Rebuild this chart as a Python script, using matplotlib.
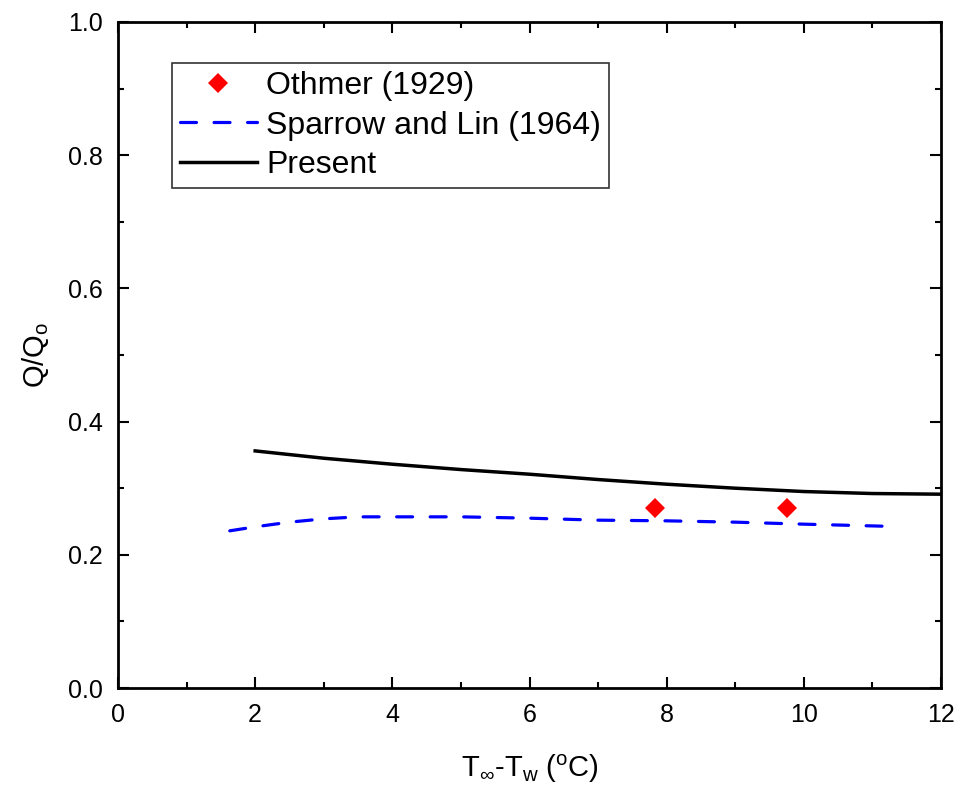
import numpy as np
import matplotlib
matplotlib.use("Agg")
import matplotlib.pyplot as plt
from matplotlib.ticker import MultipleLocator, FormatStrFormatter

plt.rcParams['font.family'] = ['Liberation Sans', 'DejaVu Sans']
plt.rcParams['mathtext.fontset'] = 'custom'
plt.rcParams['mathtext.rm'] = 'Liberation Sans'
plt.rcParams['mathtext.it'] = 'Liberation Sans'

# Othmer (1929) experimental points
othmer_x = [7.83, 9.75]
othmer_y = [0.271, 0.271]

# Sparrow and Lin (1964)
sparrow_x = [1.63, 2.0, 2.5, 3.0, 3.5, 4.0, 5.0, 6.0, 7.0, 8.0, 9.0, 10.0, 11.14]
sparrow_y = [0.236, 0.242, 0.249, 0.254, 0.257, 0.257, 0.257, 0.255, 0.252, 0.251, 0.249, 0.246, 0.243]

# Present
present_x = [2.0, 3.0, 4.0, 5.0, 6.0, 7.0, 8.0, 9.0, 10.0, 11.0, 12.0]
present_y = [0.356, 0.345, 0.336, 0.328, 0.321, 0.313, 0.306, 0.300, 0.295, 0.292, 0.291]

fig = plt.figure(figsize=(9.61, 8.02), dpi=100)
ax = fig.add_axes([118 / 961, 1 - 688 / 802, (941 - 118) / 961, (688 - 22) / 802])

ax.plot(othmer_x, othmer_y, linestyle='none', marker='D', color='red', markersize=10,
        markeredgewidth=0, label='Othmer (1929)')
ax.plot(sparrow_x, sparrow_y, color='blue', linestyle=(0, (5, 5.5)), linewidth=2.3,
        dash_capstyle='round', label='Sparrow and Lin (1964)')
ax.plot(present_x, present_y, color='black', linewidth=2.5, label='Present')

ax.set_xlim(0, 12)
ax.set_ylim(0, 1.0)
ax.xaxis.set_major_locator(MultipleLocator(2))
ax.xaxis.set_minor_locator(MultipleLocator(1))
ax.yaxis.set_major_locator(MultipleLocator(0.2))
ax.yaxis.set_minor_locator(MultipleLocator(0.1))
ax.yaxis.set_major_formatter(FormatStrFormatter('%.1f'))
ax.tick_params(which='both', direction='in', top=True, right=True, width=1.5, labelsize=18)
ax.tick_params(which='major', length=8)
ax.tick_params(which='minor', length=4)
ax.tick_params(axis='x', which='major', pad=11)
ax.tick_params(axis='y', which='major', pad=11)
for s in ax.spines.values():
    s.set_linewidth(2)

ax.set_xlabel(r'T$_{\infty}$-T$_{\mathrm{w}}$ ($^{\mathrm{o}}$C)', fontsize=21, labelpad=18)
ax.set_ylabel(r'Q/Q$_{\mathrm{o}}$', fontsize=21, labelpad=12)

leg = ax.legend(loc='upper left', bbox_to_anchor=(54 / 823, 1 - 41 / 666), fontsize=23, frameon=True,
                fancybox=False, edgecolor='black', handlelength=2.4, handletextpad=0.3,
                labelspacing=0.3, borderpad=0.25, borderaxespad=0)
leg.get_frame().set_linewidth(1.2)

fig.savefig('out.png', dpi=100)
